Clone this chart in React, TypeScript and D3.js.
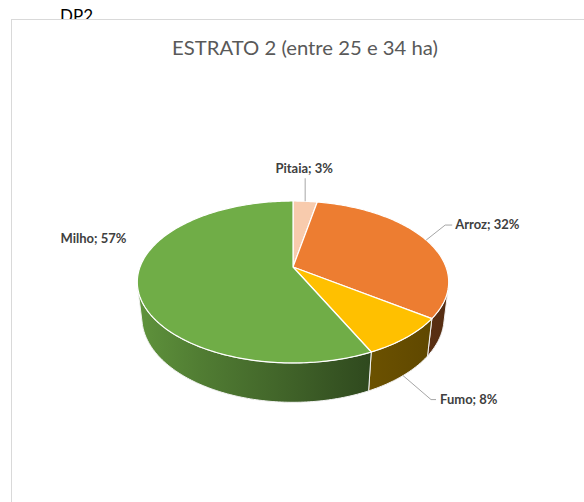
import * as d3 from "d3";
import { useEffect, useRef } from "react";

// values (Excel 3D pie)
const CROPS = ["Pitaia", "Arroz", "Fumo", "Milho"];
const SHARES = [3, 32, 8, 57];
const CROP_COLORS = ["#F8CBAD", "#ED7D31", "#FFC000", "#70AD47"];

const TITLE = "ESTRATO 2 (entre 25 e 34 ha)";
const SHEET_TAG = "DP2";

// label placement: elbow offset from the slice anchor, then a short tail
const LABEL_LAYOUT: Record<string, { ex: number; ey: number; tail: number; tx: number; ty: number; anchor: string; leader: boolean }> = {
  Pitaia: { ex: 0, ey: -23, tail: 0, tx: -1, ty: -5, anchor: "middle", leader: true },
  Arroz: { ex: 19, ey: -15, tail: 7, tx: 3, ty: 4, anchor: "start", leader: true },
  Fumo: { ex: 28, ey: 24, tail: 5, tx: 4, ty: 4, anchor: "start", leader: true },
  Milho: { ex: -11, ey: -42, tail: 0, tx: 0, ty: 0, anchor: "end", leader: false },
};

const W = 584;
const H = 502;

// projection of the pie disc, a bit of perspective like Excel
const CX = 293;
const CY = 267;
const RX = 153;
const RY = 78.2;
const PERSP = 0.185;
const DEPTH = 36;
const DEPTH_P = 0.029;

function proj(a: number, level: number): [number, number] {
  const u = Math.sin(a);
  const v = -Math.cos(a);
  const den = 1 - PERSP * v + DEPTH_P * level;
  return [CX + (RX * u) / den, CY + (RY * v + DEPTH * level) / den];
}

function arcPts(a0: number, a1: number, level: number) {
  const n = Math.max(2, Math.ceil(Math.abs(a1 - a0) / (Math.PI / 180)));
  return d3.range(n + 1).map((i) => proj(a0 + ((a1 - a0) * i) / n, level));
}

function shade(c: string, k: number) {
  const r = d3.rgb(c);
  return d3.rgb(r.r * k, r.g * k, r.b * k).formatHex();
}

const SIDE_STOPS = [
  [0, 0.85],
  [0.2, 0.72],
  [0.5, 0.56],
  [0.75, 0.42],
  [1, 0.36],
];

export default function App() {
  const ref = useRef<SVGSVGElement>(null);

  useEffect(() => {
    const svg = d3.select(ref.current);
    svg.selectAll("*").remove();

    const data = CROPS.map((name, i) => ({ name, value: SHARES[i], color: CROP_COLORS[i] }));
    const arcs = d3.pie<any>().sort(null).value((d) => d.value)(data);

    const defs = svg.append("defs");
    const line = d3.line();

    svg
      .append("text")
      .attr("x", 60)
      .attr("y", 22)
      .attr("font-family", "Lato, 'Open Sans', sans-serif")
      .attr("font-size", 17)
      .attr("fill", "#000")
      .text(SHEET_TAG);

    svg
      .append("rect")
      .attr("x", 11.5)
      .attr("y", 19.5)
      .attr("width", W + 20)
      .attr("height", H)
      .attr("fill", "#fff")
      .attr("stroke", "#d9d9d9")
      .attr("stroke-width", 1);

    svg
      .append("text")
      .attr("x", 305)
      .attr("y", 55)
      .attr("text-anchor", "middle")
      .attr("font-family", "Lato, 'Open Sans', sans-serif")
      .attr("font-size", 20)
      .attr("fill", "#595959")
      .attr("textLength", 266)
      .attr("lengthAdjust", "spacingAndGlyphs")
      .text(TITLE);

    // visible part of the outer wall
    const vis0 = Math.acos(-0.254);
    const vis1 = 2 * Math.PI - vis0;
    const xl = CX - RX * 1.02;
    const xr = CX + RX * 1.02;

    const sides = svg.append("g");
    arcs.forEach((d, i) => {
      const a0 = Math.max(d.startAngle, vis0);
      const a1 = Math.min(d.endAngle, vis1);
      if (a1 <= a0) return;
      const gid = `side-${i}`;
      const gr = defs
        .append("linearGradient")
        .attr("id", gid)
        .attr("gradientUnits", "userSpaceOnUse")
        .attr("x1", xl)
        .attr("x2", xr)
        .attr("y1", 0)
        .attr("y2", 0);
      SIDE_STOPS.forEach(([o, k]) =>
        gr.append("stop").attr("offset", o).attr("stop-color", shade(d.data.color, k))
      );
      const pts = [...arcPts(a0, a1, 0), ...arcPts(a1, a0, 1)];
      sides
        .append("path")
        .attr("d", line(pts as [number, number][]) + "Z")
        .attr("fill", `url(#${gid})`)
        .attr("stroke", "#f2f2f2")
        .attr("stroke-width", 1)
        .attr("stroke-linejoin", "round");
    });

    const tops = svg.append("g");
    arcs.forEach((d) => {
      const pts = [[CX, CY], ...arcPts(d.startAngle, d.endAngle, 0)];
      tops
        .append("path")
        .attr("d", line(pts as [number, number][]) + "Z")
        .attr("fill", d.data.color)
        .attr("stroke", "#fff")
        .attr("stroke-width", 1.2)
        .attr("stroke-linejoin", "round");
    });

    const labels = svg.append("g");
    arcs.forEach((d) => {
      const mid = (d.startAngle + d.endAngle) / 2;
      const front = -Math.cos(mid) > 0.3;
      const [ax, ay] = proj(mid, front ? 1 : 0);
      const L = LABEL_LAYOUT[d.data.name];
      const ex = ax + L.ex;
      const ey = ay + L.ey;
      const sign = L.anchor === "end" ? -1 : 1;
      const tx = ex + sign * L.tail;
      if (L.leader) {
        labels
          .append("path")
          .attr("d", line([[ax, ay], [ex, ey], [tx, ey]]))
          .attr("fill", "none")
          .attr("stroke", "#a6a6a6")
          .attr("stroke-width", 1);
      }
      labels
        .append("text")
        .attr("x", tx + L.tx)
        .attr("y", ey + L.ty)
        .attr("text-anchor", L.anchor)
        .attr("font-family", "Lato, 'Open Sans', sans-serif")
        .attr("font-size", 13)
        .attr("font-weight", 700)
        .attr("fill", "#404040")
        .text(`${d.data.name}; ${d.data.value}%`);
    });
  }, []);

  return (
    <svg
      ref={ref}
      width={W}
      height={H}
      viewBox={`0 0 ${W} ${H}`}
      style={{ position: "absolute", left: 0, top: 0, display: "block", background: "#fff" }}
    />
  );
}
